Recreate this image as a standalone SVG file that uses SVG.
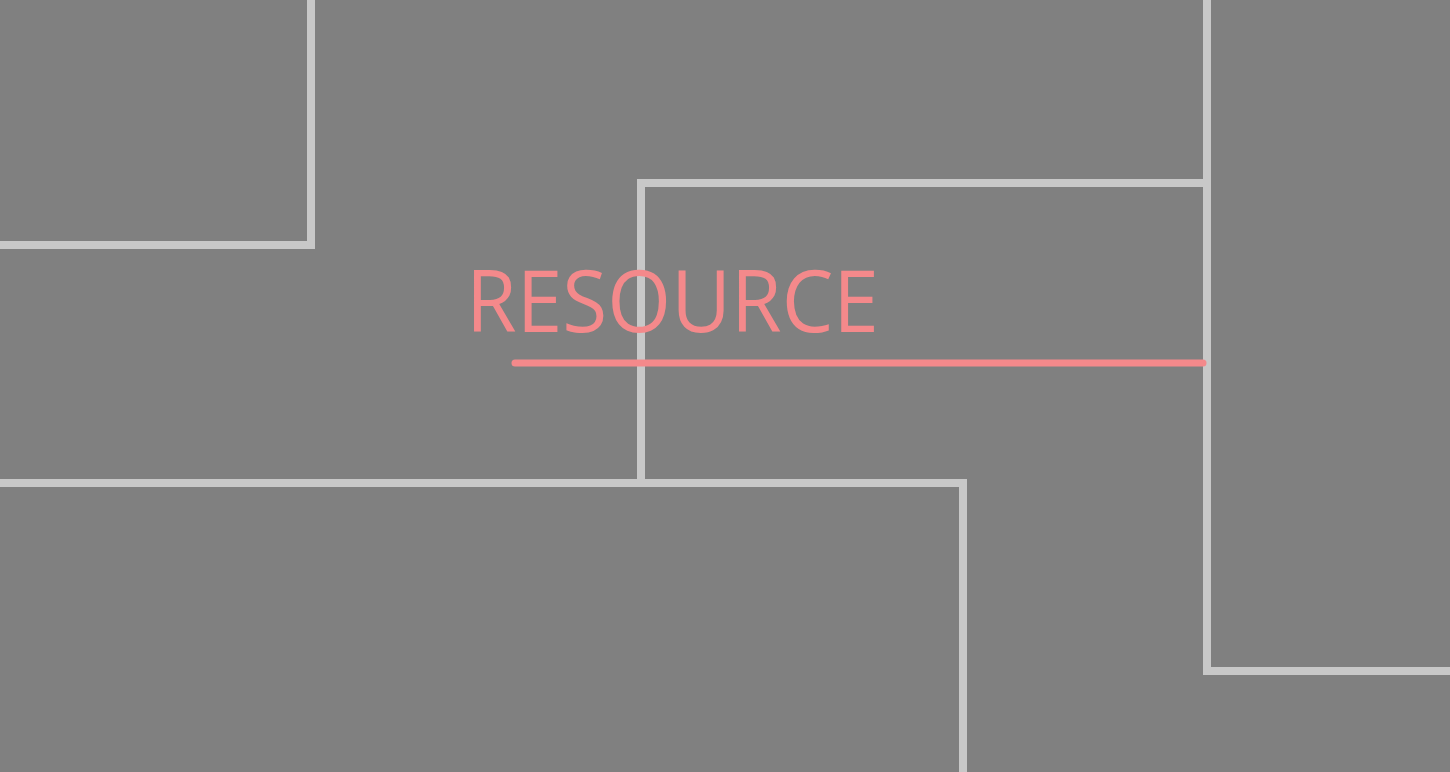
<svg xmlns="http://www.w3.org/2000/svg" width="1450" height="772" viewBox="0 0 1450 772">
<style>
.frame{fill:none;stroke:#c8c8c8;stroke-width:8;stroke-linecap:square;stroke-linejoin:miter}
.label{font-family:"Open Sans","Noto Sans",sans-serif;font-size:86px;font-weight:500;fill:#f4898b}
.under{stroke:#f4898b;stroke-width:7;stroke-linecap:round}
</style>
<rect width="1450" height="772" fill="#808080"/>
<g id="box-top-left"><path class="frame" d="M-10 245 H311 V-10"/></g>
<g id="box-middle"><path class="frame" d="M641 483 V183 H1207"/></g>
<g id="box-bottom"><path class="frame" d="M-10 483 H963 V782"/></g>
<g id="box-right"><path class="frame" d="M1207 -10 V671 H1460"/></g>
<g id="resource">
<text class="label" x="466" y="332" textLength="413" lengthAdjust="spacingAndGlyphs">RESOURCE</text>
<line class="under" x1="515" y1="363" x2="1203" y2="363"/>
</g>
</svg>
